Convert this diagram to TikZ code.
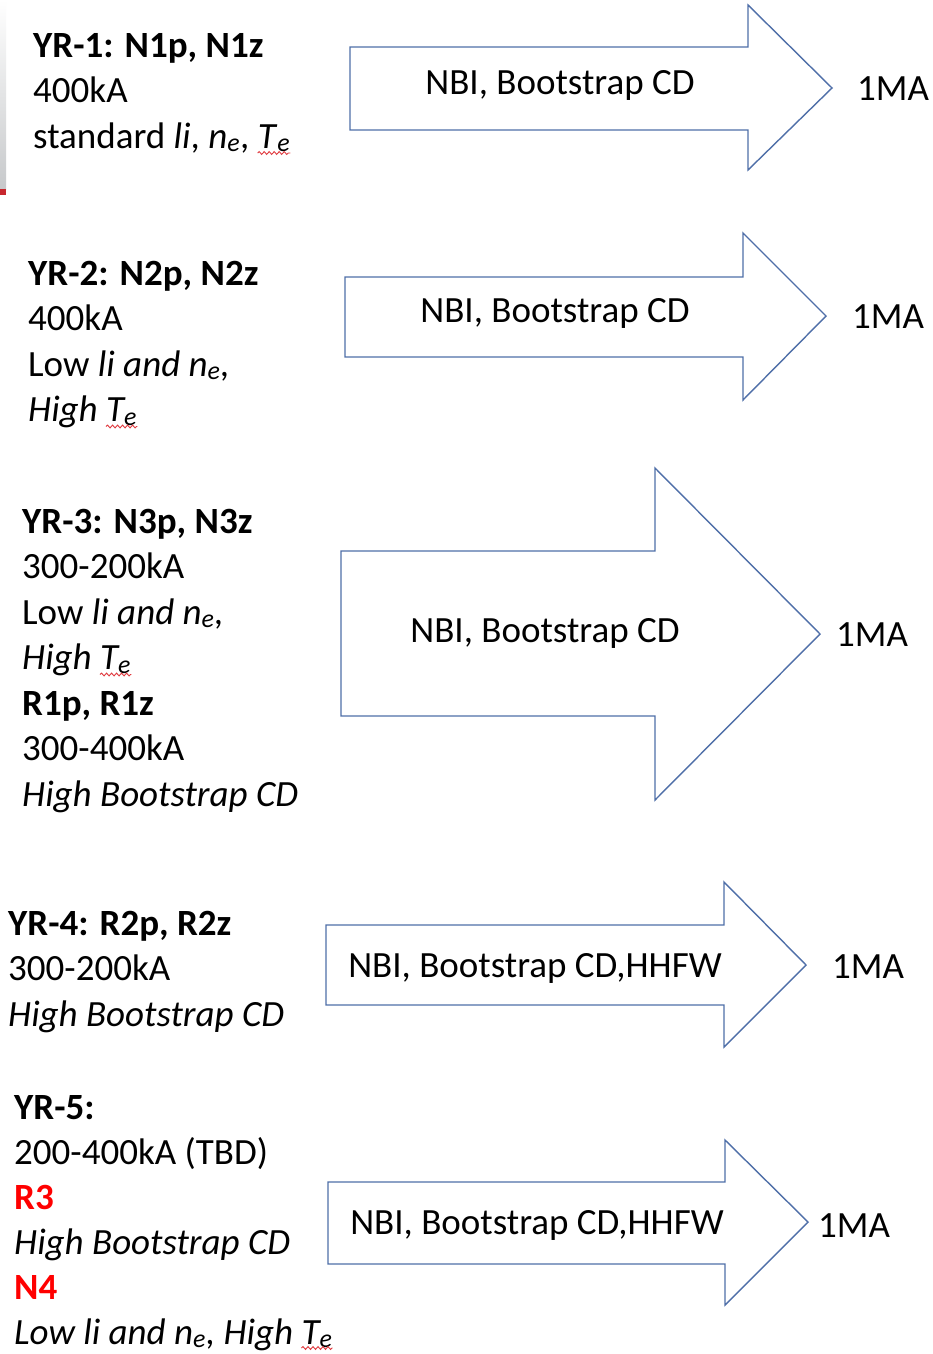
\documentclass[tikz,border=0pt]{standalone}
\usepackage{fontspec}
\setmainfont{Carlito}
\usetikzlibrary{decorations.pathmorphing}
\definecolor{arrowblue}{HTML}{4F6FA8}
\definecolor{wordred}{HTML}{FF0000}
\definecolor{squig}{HTML}{E0393E}
\definecolor{stripred}{HTML}{C8282E}
\definecolor{stripgray}{HTML}{C7C9CB}
\begin{document}
\begin{tikzpicture}[x=1pt,y=-1pt,
  ln/.style={anchor=base west,inner sep=0pt,font=\fontsize{37}{45.5}\selectfont},
  atext/.style={anchor=base,inner sep=0pt,font=\fontsize{37}{45.5}\selectfont},
  ma/.style={anchor=base west,inner sep=0pt,font=\fontsize{37}{45.5}\selectfont},
  bigarrow/.style={draw=arrowblue,line width=1.4pt,fill=white,line join=miter},
  sq/.style={draw=squig,line width=0.9pt,decorate,decoration={snake,amplitude=1.4pt,segment length=5pt}},
  redb/.style={text=wordred,font=\fontsize{37}{45.5}\selectfont\bfseries}]
\useasboundingbox (0,0) rectangle (932,1354);
\fill[white] (0,0) rectangle (932,1354);
% left edge strip
\shade[top color=white,bottom color=stripgray] (0,0) rectangle (6,189);
\fill[stripred] (0,189) rectangle (6,195);

% ---------- arrows ----------
% arrow 1
\draw[bigarrow] (350,47) -- (748,47) -- (748,5) -- (832,88) -- (748,170) -- (748,130) -- (350,130) -- cycle;
\node[atext] (a1) at (560,94) {NBI, Bootstrap CD};
\node[ma] (m1) at (857,100) {1MA};
% arrow 2
\draw[bigarrow] (345,277) -- (743,277) -- (743,233) -- (826,316) -- (743,400) -- (743,357) -- (345,357) -- cycle;
\node[atext] (a2) at (555,322) {NBI, Bootstrap CD};
\node[ma] (m2) at (852,328) {1MA};
% arrow 3
\draw[bigarrow] (341,551) -- (655,551) -- (655,468) -- (820,634) -- (655,800) -- (655,716) -- (341,716) -- cycle;
\node[atext] (a3) at (545,642) {NBI, Bootstrap CD};
\node[ma] (m3) at (836,646) {1MA};
% arrow 4
\draw[bigarrow] (326,925) -- (724,925) -- (724,882) -- (806,965) -- (724,1047) -- (724,1005) -- (326,1005) -- cycle;
\node[atext] (a4) at (535,977) {NBI, Bootstrap CD,HHFW};
\node[ma] (m4) at (832,978) {1MA};
% arrow 5
\draw[bigarrow] (328,1182) -- (725,1182) -- (725,1140) -- (808,1222) -- (725,1305) -- (725,1264) -- (328,1264) -- cycle;
\node[atext] (a5) at (537,1234) {NBI, Bootstrap CD,HHFW};
\node[ma] (m5) at (818,1237) {1MA};

% ---------- block 1 ----------
\node[ln] (b1l1) at (33,57) {\bfseries YR-1: N1p, N1z};
\node[ln] (b1l2) at (33,102.5) {400kA};
\node[ln] (b1l3) at (33,148) {standard \textit{li}, \textit{n}\textsubscript{\textit{e}},};
\node[ln] (b1te) at ([xshift=8pt]b1l3.base east) {\textit{T}\textsubscript{\textit{e}}};
\draw[sq] ([yshift=-5pt]b1te.base west) -- ([yshift=-5pt]b1te.base east);

% ---------- block 2 ----------
\node[ln] (b2l1) at (28,285) {\bfseries YR-2: N2p, N2z};
\node[ln] (b2l2) at (28,330.5) {400kA};
\node[ln] (b2l3) at (28,376) {Low \textit{li and n\textsubscript{e},}};
\node[ln] (b2l4) at (28,421.5) {\textit{High}};
\node[ln] (b2te) at ([xshift=8pt]b2l4.base east) {\textit{T\textsubscript{e}}};
\draw[sq] ([yshift=-5pt]b2te.base west) -- ([yshift=-5pt]b2te.base east);

% ---------- block 3 ----------
\node[ln] (b3l1) at (22,533) {\bfseries YR-3: N3p, N3z};
\node[ln] (b3l2) at (22,578.5) {300-200kA};
\node[ln] (b3l3) at (22,624) {Low \textit{li and n\textsubscript{e},}};
\node[ln] (b3l4) at (22,669.5) {\textit{High}};
\node[ln] (b3te) at ([xshift=8pt]b3l4.base east) {\textit{T\textsubscript{e}}};
\draw[sq] ([yshift=-5pt]b3te.base west) -- ([yshift=-5pt]b3te.base east);
\node[ln] (b3l5) at (22,715) {\bfseries R1p, R1z};
\node[ln] (b3l6) at (22,760.5) {300-400kA};
\node[ln] (b3l7) at (22,806) {\textit{High Bootstrap CD}};

% ---------- block 4 ----------
\node[ln] (b4l1) at (8,935) {\bfseries YR-4: R2p, R2z};
\node[ln] (b4l2) at (8,980.5) {300-200kA};
\node[ln] (b4l3) at (8,1026) {\textit{High Bootstrap CD}};

% ---------- block 5 ----------
\node[ln] (b5l1) at (14,1119) {\bfseries YR-5:};
\node[ln] (b5l2) at (14,1164) {200-400kA (TBD)};
\node[ln,redb] (b5l3) at (14,1209) {R3};
\node[ln] (b5l4) at (14,1254) {\textit{High Bootstrap CD}};
\node[ln,redb] (b5l5) at (14,1299) {N4};
\node[ln] (b5l6) at (14,1344) {\textit{Low li and n\textsubscript{e}, High}};
\node[ln] (b5te) at ([xshift=8pt]b5l6.base east) {\textit{T\textsubscript{e}}};
\draw[sq] ([yshift=-4pt]b5te.base west) -- ([yshift=-4pt]b5te.base east);
\end{tikzpicture}
\end{document}
